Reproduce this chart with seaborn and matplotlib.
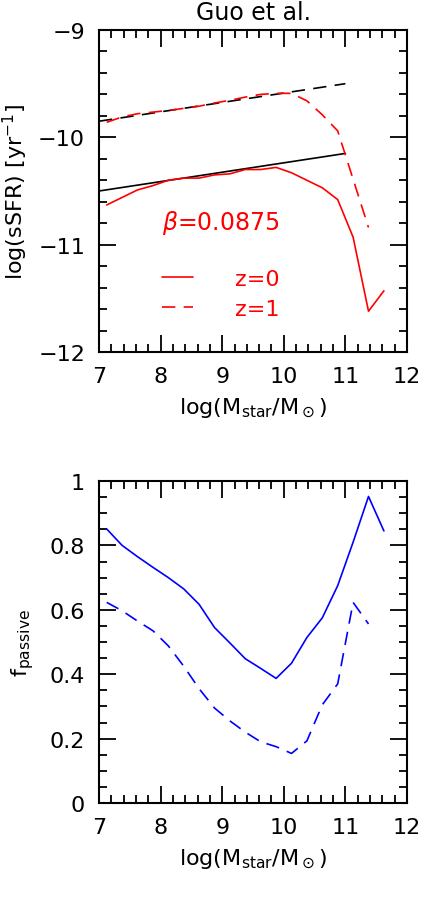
import numpy as np
import pandas as pd
import seaborn as sns
from matplotlib import pyplot as plt
from matplotlib.ticker import MultipleLocator

sns.set_style("ticks", rc={'text.color': 'black', 'axes.labelcolor': 'black',
                           'xtick.color': 'black', 'ytick.color': 'black',
                           'axes.edgecolor': 'black'})
plt.rcParams['font.family'] = ['DejaVu Sans']
plt.rcParams['mathtext.fontset'] = 'dejavusans'

# mass bins (log Mstar / Msun)
mass = [7.125, 7.375, 7.625, 7.875, 8.125, 8.375, 8.625, 8.875, 9.125, 9.375,
        9.625, 9.875, 10.125, 10.375, 10.625, 10.875, 11.125, 11.375, 11.625]

# top panel: log sSFR
ssfr_z0 = [-10.63, -10.56, -10.49, -10.45, -10.40, -10.38, -10.38, -10.35, -10.34, -10.30,
           -10.30, -10.28, -10.33, -10.40, -10.47, -10.58, -10.93, -11.62, -11.43]
ssfr_z1 = [-9.86, -9.81, -9.78, -9.765, -9.75, -9.73, -9.71, -9.68, -9.655, -9.625,
           -9.60, -9.59, -9.59, -9.66, -9.79, -9.94, -10.39, -10.84]

# beta = 0.0875 reference lines
fit_mass = [7.0, 11.0]
fit_z0 = [-10.50, -10.15]
fit_z1 = [-9.85, -9.50]

# bottom panel: passive fraction
fpass_z0 = [0.851, 0.80, 0.765, 0.732, 0.70, 0.665, 0.617, 0.545, 0.497, 0.448,
            0.418, 0.387, 0.434, 0.514, 0.575, 0.675, 0.81, 0.952, 0.845]
fpass_z1 = [0.623, 0.597, 0.565, 0.535, 0.488, 0.425, 0.355, 0.295, 0.255, 0.22,
            0.19, 0.175, 0.154, 0.193, 0.305, 0.37, 0.623, 0.556]

dash = (0, (8, 5))
lw = 1.2

fig = plt.figure(figsize=(4.22, 9.04), dpi=100)
ax1 = fig.add_axes([99/422, 1-353/904, 308/422, 322/904])
ax2 = fig.add_axes([99/422, 1-804/904, 308/422, 322/904])

##top panel
sns.lineplot(x=fit_mass, y=fit_z1, ax=ax1, color='black', lw=lw, linestyle=dash)
sns.lineplot(x=fit_mass, y=fit_z0, ax=ax1, color='black', lw=lw)
l0 = sns.lineplot(x=mass, y=ssfr_z0, ax=ax1, color='red', lw=lw).lines[-1]
l1 = sns.lineplot(x=mass[:len(ssfr_z1)], y=ssfr_z1, ax=ax1, color='red', lw=lw, linestyle=dash).lines[-1]

ax1.set_xlim(7, 12)
ax1.set_ylim(-12, -9)
ax1.set_yticks([-12, -11, -10, -9])
ax1.set_yticklabels([u'\u221212', u'\u221211', u'\u221210', u'\u22129'])
ax1.yaxis.set_minor_locator(MultipleLocator(0.2))
ax1.set_ylabel(r'log(sSFR) [yr$^{-1}$]', fontsize=16)
ax1.yaxis.set_label_coords(-0.225, 0.5)

fig.text(162/422, 1-223/904, r'$\beta$=0.0875', color='red', fontsize=17, va='center', ha='left')
ax1.legend([l0, l1], ['z=0', 'z=1'], loc='upper left', bbox_to_anchor=(142/422, 1-250/904),
           bbox_transform=fig.transFigure, frameon=False, labelcolor='red',
           fontsize=16, handlelength=1.4, handletextpad=1.9, labelspacing=0.45)

##bottom panel
sns.lineplot(x=mass, y=fpass_z0, ax=ax2, color='blue', lw=lw)
sns.lineplot(x=mass[:len(fpass_z1)], y=fpass_z1, ax=ax2, color='blue', lw=lw, linestyle=dash)
ax2.set_xlim(7, 12)
ax2.set_ylim(0, 1)
ax2.set_yticks([0, 0.2, 0.4, 0.6, 0.8, 1.0])
ax2.set_yticklabels(['0', '0.2', '0.4', '0.6', '0.8', '1'])
ax2.yaxis.set_minor_locator(MultipleLocator(0.05))
ax2.set_ylabel(r'f$_{\rm passive}$', fontsize=16)
ax2.yaxis.set_label_coords(-0.205, 0.5)

for ax in (ax1, ax2):
    ax.xaxis.set_major_locator(MultipleLocator(1))
    ax.xaxis.set_minor_locator(MultipleLocator(0.2))
    ax.tick_params(which='major', direction='in', length=12, width=1.3, top=True, right=True,
                   labelsize=16, pad=10)
    ax.tick_params(which='minor', direction='in', length=6, width=1.3, top=True, right=True)
    for sp in ax.spines.values():
        sp.set_linewidth(1.5)
    ax.set_xlabel(r'log(M$_{\rm star}$/M$_\odot$)', fontsize=16)
    ax.xaxis.set_label_coords(0.5, -0.135)

fig.text(253/422, 1-13/904, 'Guo et al.', ha='center', va='center', fontsize=17)

plt.savefig('out.png', dpi=100)
